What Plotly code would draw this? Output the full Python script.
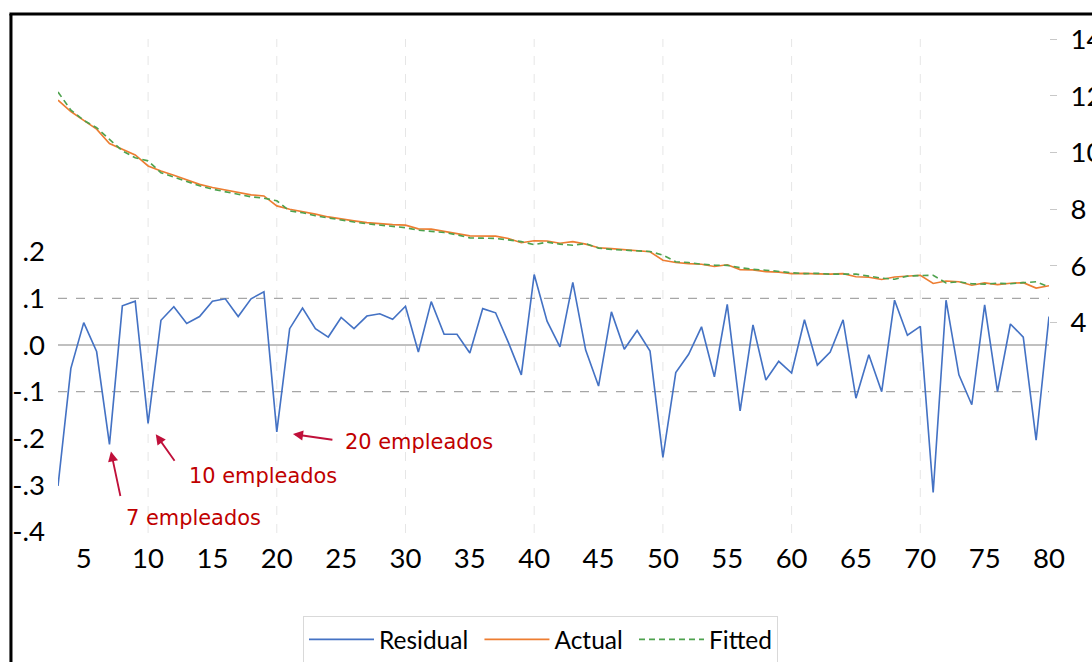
import plotly.graph_objects as go

# ---------------- data ----------------
n_obs = list(range(3, 81))
residual = [-0.302, -0.050, 0.048, -0.014, -0.213, 0.084, 0.094, -0.168, 0.053, 0.082,
            0.046, 0.061, 0.094, 0.099, 0.061, 0.099, 0.114, -0.186, 0.035, 0.079,
            0.035, 0.017, 0.059, 0.035, 0.062, 0.067, 0.055, 0.083, -0.015, 0.093,
            0.023, 0.023, -0.017, 0.078, 0.069, 0.005, -0.064, 0.151, 0.051, -0.004,
            0.134, -0.011, -0.088, 0.071, -0.009, 0.031, -0.013, -0.241, -0.059, -0.020,
            0.039, -0.068, 0.087, -0.141, 0.043, -0.075, -0.035, -0.060, 0.054, -0.043,
            -0.015, 0.054, -0.114, -0.021, -0.100, 0.096, 0.021, 0.040, -0.316, 0.096,
            -0.064, -0.128, 0.086, -0.100, 0.045, 0.017, -0.204, 0.061]
actual = [11.85, 11.45, 11.14, 10.83, 10.32, 10.12, 9.92, 9.53, 9.35, 9.20,
          9.04, 8.88, 8.77, 8.68, 8.58, 8.51, 8.47, 8.12, 8.00, 7.92,
          7.83, 7.73, 7.65, 7.59, 7.53, 7.49, 7.46, 7.44, 7.31, 7.30,
          7.21, 7.14, 7.06, 7.05, 7.05, 6.97, 6.82, 6.89, 6.88, 6.80,
          6.86, 6.77, 6.64, 6.61, 6.58, 6.54, 6.50, 6.20, 6.12, 6.08,
          6.06, 5.98, 6.04, 5.87, 5.86, 5.80, 5.78, 5.73, 5.74, 5.72,
          5.71, 5.73, 5.62, 5.60, 5.52, 5.61, 5.64, 5.67, 5.38, 5.47,
          5.44, 5.32, 5.40, 5.34, 5.39, 5.41, 5.22, 5.30]
fitted = [12.14, 11.50, 11.14, 10.88, 10.47, 10.06, 9.82, 9.71, 9.29, 9.14,
          8.98, 8.83, 8.71, 8.62, 8.53, 8.44, 8.39, 8.30, 7.94, 7.88,
          7.77, 7.69, 7.62, 7.55, 7.49, 7.45, 7.41, 7.35, 7.26, 7.21,
          7.18, 7.10, 6.99, 6.98, 6.97, 6.92, 6.86, 6.75, 6.84, 6.77,
          6.73, 6.79, 6.63, 6.58, 6.56, 6.53, 6.51, 6.38, 6.15, 6.12,
          6.06, 6.03, 6.02, 5.94, 5.88, 5.85, 5.80, 5.76, 5.73, 5.74,
          5.71, 5.72, 5.71, 5.64, 5.57, 5.53, 5.64, 5.66, 5.67, 5.40,
          5.44, 5.37, 5.36, 5.39, 5.37, 5.41, 5.44, 5.26]

series_names = ["Residual", "Actual", "Fitted"]
x_tickvals = list(range(5, 81, 5))
left_tickvals = [0.2, 0.1, 0.0, -0.1, -0.2, -0.3, -0.4]
left_ticktext = [".2", ".1", ".0", "-.1", "-.2", "-.3", "-.4"]
right_tickvals = [4, 6, 8, 10, 12, 14]
band_levels = [0.1, -0.1]
vgrid_vals = list(range(10, 80, 10))

callouts = [  # (obs, text)
    (7, "7 empleados"),
    (10, "10 empleados"),
    (20, "20 empleados"),
]

# ---------------- layout geometry ----------------
# All pixel constants below are in reference-image pixels (1092x662);
# K converts them to figure pixels (the page is photographed and fitted).
REF_W, REF_H = 1092, 662
K = 1114 / 1092
W, H = round(REF_W * K), round(REF_H * K)

def s(v):
    return v * K

def si(v):
    return int(round(v * K))

PL, PR, PT, PB = 57, 1047, 38, 532      # plot area (ref px)
pw, ph = PR - PL, PB - PT

def px_x(p):
    return (p - PL) / pw

def px_y(p):
    return (PB - p) / ph

# left axis: 0 at y=344, 0.1 per 46.67 px
l_top = (344 - PT) / 466.7
l_bot = (344 - PB) / 466.7
# right axis: 14 at y=38.3, 28.33 px per unit
r_top = 14 + (38.3 - PT) / 28.33
r_bot = 14 - (PB - 38.3) / 28.33

FONT = "Lato, 'Open Sans', sans-serif"
RED = "#C00000"
ARROW = "#C0103A"
PAD = "\u00a0"

fig = go.Figure()

fig.add_trace(go.Scatter(x=n_obs, y=residual, name=series_names[0] + PAD, mode="lines",
                         line=dict(color="#4472C4", width=s(1.6)), yaxis="y", xaxis="x"))
fig.add_trace(go.Scatter(x=n_obs, y=actual, name=series_names[1] + PAD, mode="lines",
                         line=dict(color="#ED7D31", width=s(1.6)), yaxis="y2", xaxis="x"))
fig.add_trace(go.Scatter(x=n_obs, y=fitted, name=series_names[2], mode="lines",
                         line=dict(color="#4EA24E", width=s(1.6), dash="6px,4px"),
                         yaxis="y2", xaxis="x"))

shapes = []
# vertical grid lines
for v in vgrid_vals:
    shapes.append(dict(type="line", xref="x", yref="paper", x0=v, x1=v, y0=0, y1=1,
                       line=dict(color="#E6E6E6", width=1, dash="dash"), layer="below"))
# zero line and +-0.1 bands
shapes.append(dict(type="line", xref="paper", yref="y", x0=0, x1=1, y0=0, y1=0,
                   line=dict(color="#C0C0C0", width=s(1.8)), layer="below"))
for b in band_levels:
    shapes.append(dict(type="line", xref="paper", yref="y", x0=0, x1=1, y0=b, y1=b,
                       line=dict(color="#A6A6A6", width=s(1.2), dash="dash"), layer="below"))
# outer frame (left and top), kept inside the figure
shapes.append(dict(type="line", xref="paper", yref="paper",
                   x0=px_x(10), x1=px_x(10), y0=px_y(13), y1=px_y(REF_H - 0.5),
                   line=dict(color="black", width=s(3))))
shapes.append(dict(type="line", xref="paper", yref="paper",
                   x0=px_x(8.5), x1=px_x(REF_W - 0.5), y0=px_y(13), y1=px_y(13),
                   line=dict(color="black", width=s(3))))

annotations = []
arrow_specs = {7: (11, 52, 7), 10: (27, 38, 13), 20: (56, 8, 16)}
text_pos = {7: (192, 517), 10: (262, 475), 20: (418, 441)}
res_map = dict(zip(n_obs, residual))
for obs, txt in callouts:
    ax, ay, so = arrow_specs[obs]
    annotations.append(dict(x=obs, y=res_map[obs], xref="x", yref="y", text="",
                            showarrow=True, ax=s(ax), ay=s(ay), standoff=s(so),
                            arrowhead=2, arrowsize=1.1, arrowwidth=s(1.8), arrowcolor=ARROW))
    tx, ty = text_pos[obs]
    annotations.append(dict(x=px_x(tx), y=px_y(ty), xref="paper", yref="paper",
                            text=txt, showarrow=False, xanchor="center", yanchor="middle",
                            font=dict(family="'DejaVu Sans', sans-serif", size=s(20.5),
                                      color=RED)))

fig.update_layout(
    width=W, height=H,
    margin=dict(l=s(PL), r=W - s(PR), t=s(PT), b=H - s(PB)),
    paper_bgcolor="white", plot_bgcolor="white",
    font=dict(family=FONT, size=s(27), color="black"),
    showlegend=True,
    legend=dict(orientation="h", x=px_x(539), xanchor="center", y=px_y(615), yanchor="top",
                bordercolor="#D9D9D9", borderwidth=1, bgcolor="white",
                font=dict(family=FONT, size=s(24), color="black"),
                itemwidth=si(64), tracegroupgap=0),
    xaxis=dict(range=[3, 80], tickvals=x_tickvals, showgrid=False, zeroline=False,
               showline=False, ticks="", tickfont=dict(size=s(27)), ticklabelstandoff=si(6)),
    yaxis=dict(range=[l_bot, l_top], tickvals=left_tickvals, ticktext=left_ticktext,
               showgrid=False, zeroline=False, showline=False, ticks="",
               tickfont=dict(size=s(27)), ticklabelstandoff=si(12)),
    yaxis2=dict(range=[r_bot, r_top], tickvals=right_tickvals, overlaying="y", side="right",
                showgrid=False, zeroline=False, showline=False, ticks="outside",
                ticklen=si(7), tickcolor="#C8C8C8", tickwidth=1, tickfont=dict(size=s(27)),
                ticklabelstandoff=si(8)),
    shapes=shapes,
    annotations=annotations,
)

page_js = (
    "document.body.style.margin='0';"
    "document.documentElement.style.overflow='hidden';"
)

fig.write_html("out.html", config={"displayModeBar": False}, post_script=page_js)
